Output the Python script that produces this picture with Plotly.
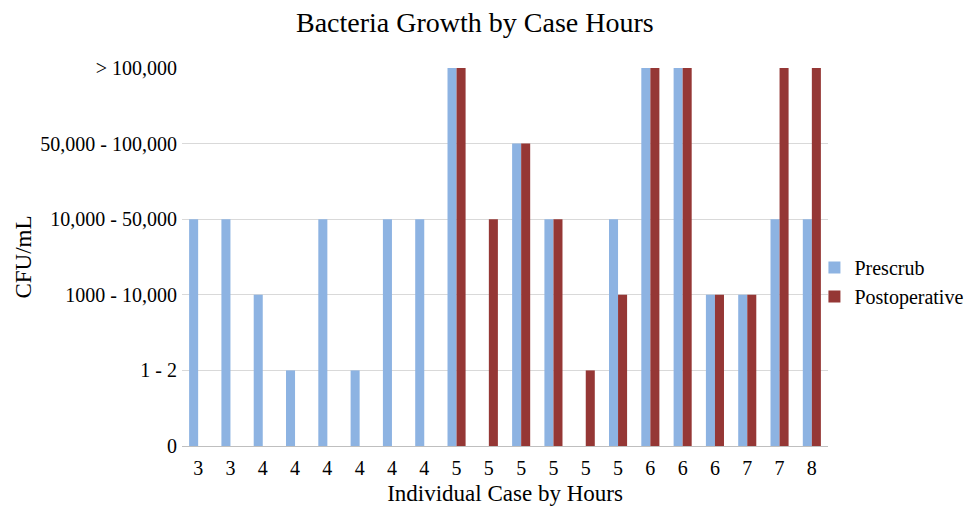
import plotly.graph_objects as go

case_ids = list(range(1, 21))
case_hours = ["3", "3", "4", "4", "4", "4", "4", "4", "5", "5",
              "5", "5", "5", "5", "6", "6", "6", "7", "7", "8"]
level_labels = ["0", "1 - 2", "1000 - 10,000", "10,000 - 50,000",
                "50,000 - 100,000", "> 100,000"]
prescrub = [3, 3, 2, 1, 3, 1, 3, 3, 5, 0, 4, 3, 0, 3, 5, 5, 2, 2, 3, 3]
postoperative = [0, 0, 0, 0, 0, 0, 0, 0, 5, 3, 4, 3, 1, 2, 5, 5, 2, 2, 5, 5]

serif = "Liberation Serif, Times New Roman, serif"

fig = go.Figure()
fig.add_trace(go.Bar(x=case_ids, y=prescrub, name="Prescrub",
                     marker=dict(color="#8DB3E2", line=dict(width=0))))
fig.add_trace(go.Bar(x=case_ids, y=postoperative, name="Postoperative",
                     marker=dict(color="#953735", line=dict(width=0))))

fig.update_layout(
    width=971, height=513,
    margin=dict(l=182, r=143, t=68, b=67, autoexpand=False),
    paper_bgcolor="white", plot_bgcolor="white",
    barmode="group", bargap=0.44, bargroupgap=0,
    font=dict(family=serif, color="#000000", size=20),
    title=dict(text="Bacteria Growth by Case Hours", xref="container", x=0.489,
               xanchor="center", y=0.957, yanchor="middle",
               font=dict(size=28, family=serif)),
    showlegend=True,
    legend=dict(x=0.979, xanchor="left", y=0.434, yanchor="middle",
                font=dict(size=20, family=serif), tracegroupgap=0,
                itemwidth=30, bgcolor="rgba(0,0,0,0)"),
    xaxis=dict(tickmode="array", tickvals=case_ids, ticktext=case_hours,
               range=[0.5, 20.5], showgrid=False, showline=False,
               ticks="", ticklabelstandoff=8, tickfont=dict(size=20, family=serif),
               title=dict(text="Individual Case by Hours",
                          font=dict(size=23, family=serif), standoff=6)),
    yaxis=dict(tickmode="array", tickvals=list(range(6)), ticktext=level_labels,
               range=[0, 5], showgrid=True, gridcolor="#D9D9D9", gridwidth=1,
               zeroline=True, zerolinecolor="#BFBFBF", zerolinewidth=1,
               ticks="", ticklabelstandoff=4, tickfont=dict(size=20, family=serif),
               title=dict(text="CFU/mL", font=dict(size=23, family=serif), standoff=2)),
)

fig.write_html("out.html")
